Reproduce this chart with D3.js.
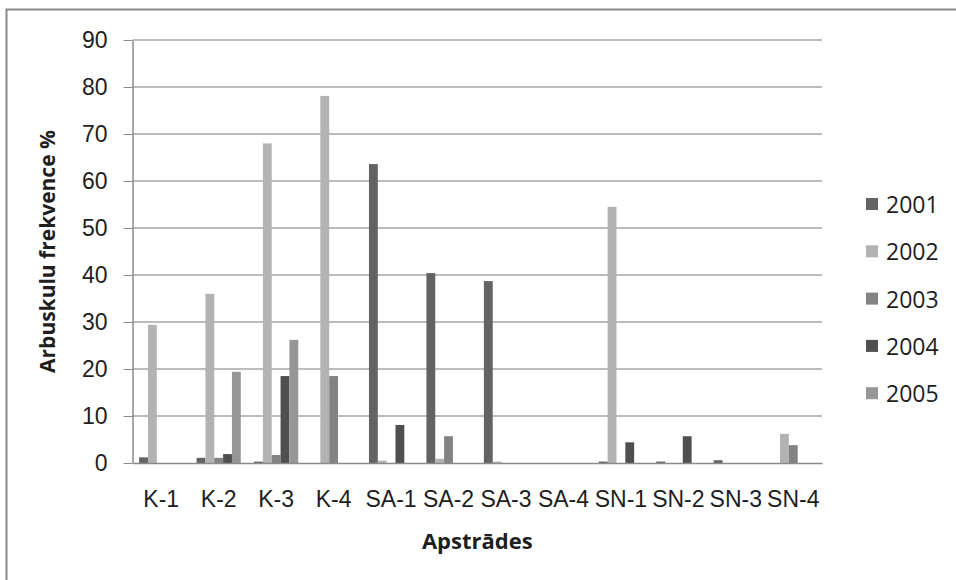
<!DOCTYPE html>
<html>
<head>
<meta charset="utf-8">
<script src="https://cdnjs.cloudflare.com/ajax/libs/d3/7.8.5/d3.min.js"></script>
<style>
  body { margin: 0; background: #fff; }
  svg { display: block; font-family: "Open Sans", "Noto Sans", sans-serif; }
  .axis text { font-size: 23px; fill: #1e1e1e; }
  .axis path, .axis line { stroke: #8a8a8a; }
  .grid line { stroke: #a6a6a6; stroke-width: 1.5; }
</style>
</head>
<body>
<div id="chart"></div>
<script>
// Treatments on the x axis.
var categories = ['K-1', 'K-2', 'K-3', 'K-4', 'SA-1', 'SA-2', 'SA-3', 'SA-4',
                  'SN-1', 'SN-2', 'SN-3', 'SN-4'];

var years = ['2001', '2002', '2003', '2004', '2005'];

// Arbuscule frequency %, one array per year, in category order.
var values2001 = [1.2, 1.1, 0.3, 0, 63.6, 40.4, 38.7, 0, 0.3, 0.3, 0.6, 0];
var values2002 = [29.4, 36.0, 68.0, 78.1, 0.5, 0.9, 0.3, 0, 54.5, 0, 0, 6.2];
var values2003 = [0, 1.1, 1.7, 18.5, 0, 5.7, 0, 0, 0, 0, 0, 3.8];
var values2004 = [0, 1.9, 18.5, 0, 8.1, 0, 0, 0, 4.4, 5.7, 0, 0];
var values2005 = [0, 19.4, 26.2, 0, 0, 0, 0, 0, 0, 0, 0, 0];

var yTicks = [0, 10, 20, 30, 40, 50, 60, 70, 80, 90];

;(function() {
  'use strict';

  var width = 956,
      height = 580;

  // Plot area, matching the Excel chart.
  var plot = {left: 132.5, right: 822, top: 40, bottom: 463};

  var colors = {
    '2001': '#636363',
    '2002': '#b3b3b3',
    '2003': '#838383',
    '2004': '#4f4f4f',
    '2005': '#969696'
  };

  var seriesValues = {
    '2001': values2001,
    '2002': values2002,
    '2003': values2003,
    '2004': values2004,
    '2005': values2005
  };

  var rows = categories.map(function(c, i) {
    return {
      group: c,
      bars: years.map(function(y) { return {year: y, value: seriesValues[y][i]}; })
    };
  });

  var x0 = d3.scaleBand()
              .domain(categories)
              .range([plot.left, plot.right])
              .padding(0);

  // 150% gap width: 0.75 bar of padding each side.
  var x1 = d3.scaleBand()
              .domain(years)
              .range([0, x0.bandwidth()])
              .paddingInner(0)
              .paddingOuter(0.75);

  var y = d3.scaleLinear()
             .domain([0, 90])
             .range([plot.bottom, plot.top]);

  var svg = d3.select('#chart').append('svg')
              .attr('width', width)
              .attr('height', height);

  // Chart border (runs off the right and bottom edges).
  svg.append('rect')
      .attr('x', 6.5)
      .attr('y', 9.5)
      .attr('width', 960)
      .attr('height', 600)
      .attr('fill', '#fff')
      .attr('stroke', '#8a8a8a')
      .attr('stroke-width', 2);

  // Gridlines.
  svg.append('g')
      .attr('class', 'grid')
      .selectAll('line')
      .data(yTicks.slice(1))
      .enter()
      .append('line')
      .attr('x1', plot.left)
      .attr('x2', plot.right)
      .attr('y1', function(d) { return y(d); })
      .attr('y2', function(d) { return y(d); });

  // Bars.
  var groups = svg.append('g')
      .selectAll('g')
      .data(rows)
      .enter()
      .append('g')
      .attr('transform', function(d) { return translation(x0(d.group), 0); });

  groups.selectAll('rect')
      .data(function(d) { return d.bars.filter(function(b) { return b.value > 0; }); })
      .enter()
      .append('rect')
      .attr('x', function(d) { return x1(d.year); })
      .attr('y', function(d) { return y(d.value); })
      .attr('width', x1.bandwidth())
      .attr('height', function(d) { return y(0) - y(d.value); })
      .attr('fill', function(d) { return colors[d.year]; });

  // Axes.
  var yAxis = d3.axisLeft(y)
                .tickValues(yTicks)
                .tickSize(9)
                .tickPadding(16)
                .tickSizeOuter(0);

  svg.append('g')
      .attr('class', 'axis axis-y')
      .attr('transform', translation(plot.left, 0))
      .call(yAxis)
      .call(function(g) { g.select('.domain').attr('stroke-width', 1.5); });

  var xAxis = d3.axisBottom(x0)
                .tickSize(0)
                .tickSizeOuter(0);

  svg.append('g')
      .attr('class', 'axis axis-x')
      .attr('transform', translation(0, plot.bottom))
      .call(xAxis)
      .call(function(g) { g.select('.domain').attr('stroke-width', 1.5); })
      .selectAll('text')
      .attr('y', 44)
      .attr('dy', 0);

  // Axis titles.
  svg.append('text')
      .attr('transform', translation(47, (plot.top + plot.bottom) / 2) + 'rotate(-90)')
      .attr('text-anchor', 'middle')
      .attr('dominant-baseline', 'central')
      .style('font-size', '21px')
      .style('font-weight', 'bold')
      .attr('fill', '#1e1e1e')
      .text('Arbuskulu frekvence %');

  svg.append('text')
      .attr('x', (plot.left + plot.right) / 2)
      .attr('y', 549)
      .attr('text-anchor', 'middle')
      .style('font-size', '22px')
      .style('font-weight', 'bold')
      .attr('fill', '#1e1e1e')
      .text('Apstrādes');

  // Legend.
  var legend = svg.append('g')
      .selectAll('g')
      .data(years)
      .enter()
      .append('g')
      .attr('transform', function(d, i) { return translation(866, 204 + i * 47.3); });

  legend.append('rect')
      .attr('x', 0)
      .attr('y', -6)
      .attr('width', 12)
      .attr('height', 12)
      .attr('fill', function(d) { return colors[d]; });

  legend.append('text')
      .attr('x', 20)
      .attr('y', 0)
      .attr('dominant-baseline', 'central')
      .style('font-size', '23px')
      .attr('fill', '#1e1e1e')
      .text(function(d) { return d; });

  function translation(x, y) {
    return 'translate(' + x + ',' + y + ')';
  }
}());
</script>
</body>
</html>
